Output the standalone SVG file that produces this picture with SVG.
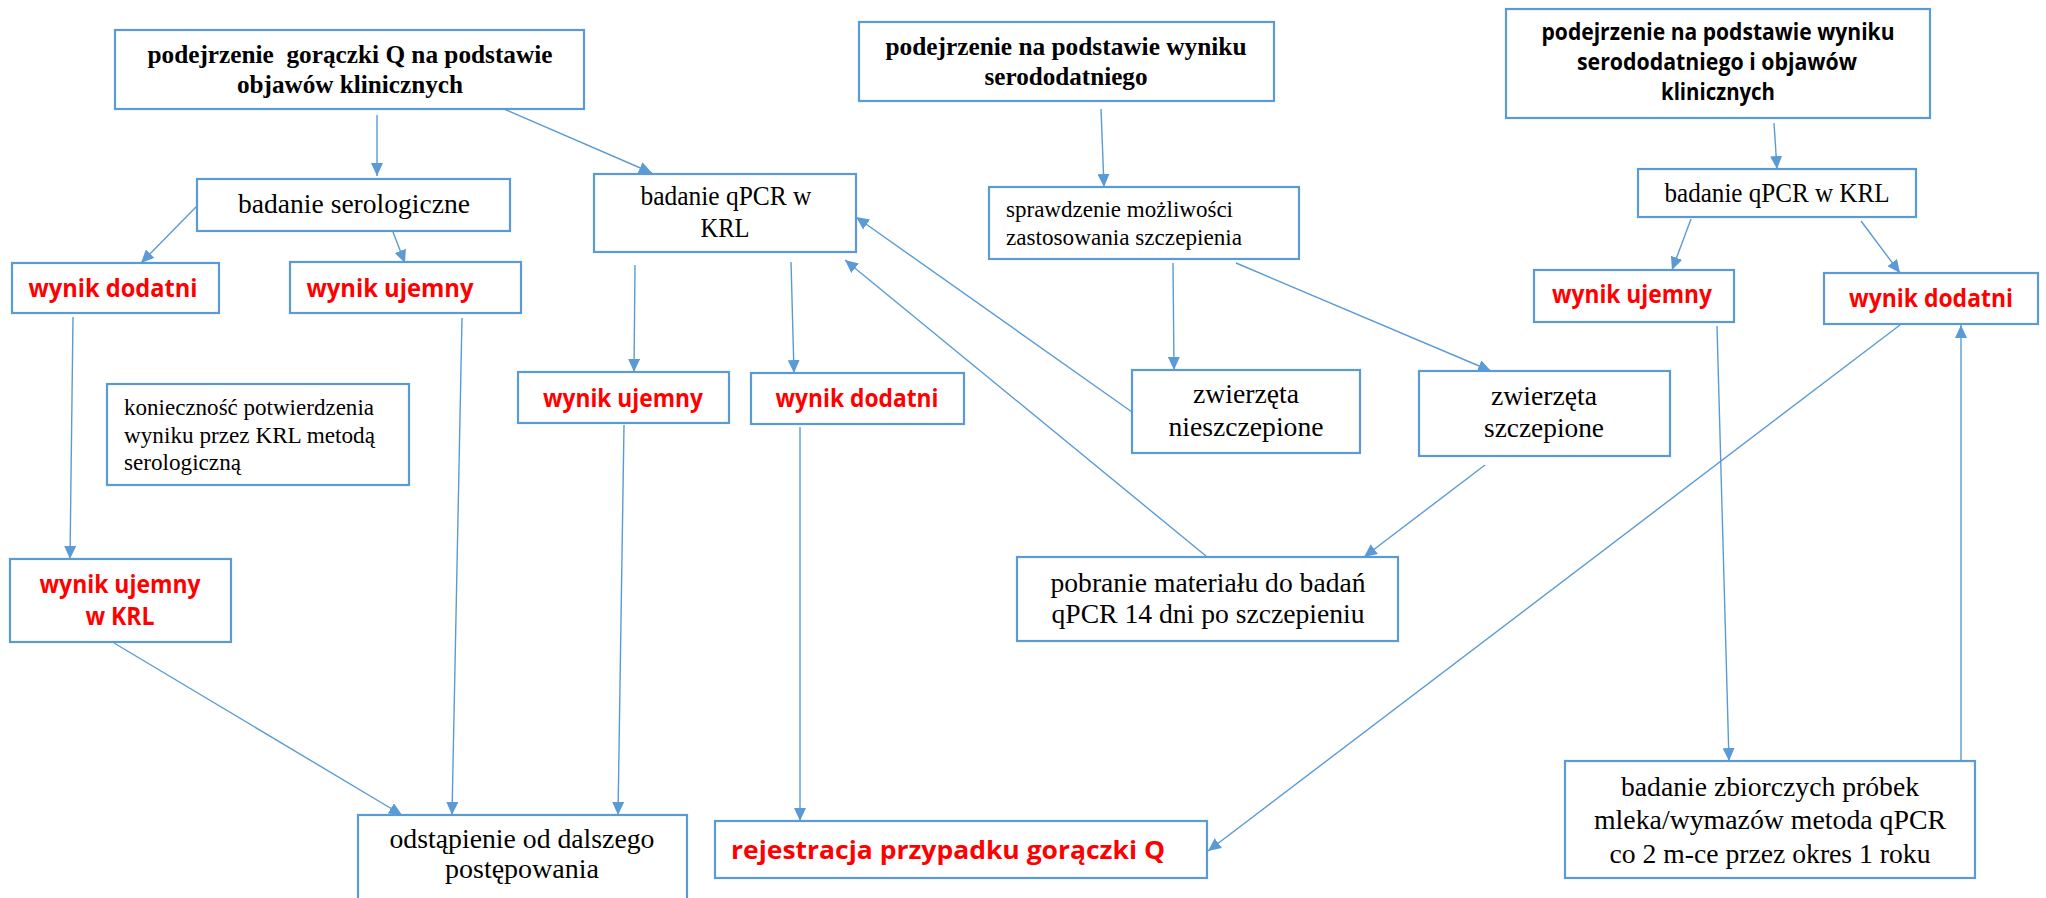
<svg xmlns="http://www.w3.org/2000/svg" width="2046" height="898" viewBox="0 0 2046 898">
<style>
.box{fill:#fff;stroke:#5B9BD5;stroke-width:2.2}
.t{font-family:"Liberation Serif","Times New Roman",serif;font-size:27px;fill:#000}
.ts{font-family:"Liberation Serif","Times New Roman",serif;font-size:23px;fill:#000}
.tb{font-family:"Liberation Serif","Times New Roman",serif;font-size:25px;font-weight:bold;fill:#000}
.sb{font-family:"Open Sans","Liberation Sans",sans-serif;font-size:23px;font-weight:bold;fill:#000}
.r{font-family:"Open Sans","Liberation Sans",sans-serif;font-size:25px;font-weight:bold;fill:#FF0000}
.c{text-anchor:middle}
.e{stroke:#5B9BD5;stroke-width:1.4;fill:none}
.ea{stroke:#5B9BD5;stroke-width:1.4;fill:none;marker-end:url(#ah)}
</style>
<defs>
<marker id="ah" markerUnits="userSpaceOnUse" markerWidth="14" markerHeight="12" refX="13" refY="6" orient="auto">
<path d="M0,0 L13,6 L0,12 z" fill="#5B9BD5"/>
</marker>
</defs>
<rect width="2046" height="898" fill="#fff"/>
<g id="connectors">
<line class="ea" x1="377" y1="115" x2="377" y2="176"/>
<line class="ea" x1="504" y1="109" x2="652" y2="173"/>
<line class="ea" x1="196" y1="207" x2="141" y2="263"/>
<line class="ea" x1="393" y1="232" x2="405" y2="263"/>
<line class="ea" x1="73" y1="317" x2="70" y2="559"/>
<line class="ea" x1="462" y1="318" x2="452" y2="815"/>
<line class="ea" x1="114" y1="643" x2="402" y2="815"/>
<line class="ea" x1="635" y1="265" x2="634" y2="372"/>
<line class="ea" x1="791" y1="262" x2="794" y2="373"/>
<line class="ea" x1="624" y1="425" x2="618" y2="815"/>
<line class="ea" x1="800" y1="427" x2="800" y2="821"/>
<line class="ea" x1="1101" y1="109" x2="1104" y2="187"/>
<line class="ea" x1="1173" y1="263" x2="1174" y2="370"/>
<line class="ea" x1="1236" y1="263" x2="1491" y2="371"/>
<line class="ea" x1="1132" y1="412" x2="856" y2="217"/>
<line class="ea" x1="1485" y1="465" x2="1364" y2="557"/>
<line class="ea" x1="1206" y1="556" x2="845" y2="260"/>
<line class="ea" x1="1774" y1="123" x2="1777" y2="169"/>
<line class="ea" x1="1691" y1="219" x2="1672" y2="270"/>
<line class="ea" x1="1861" y1="221" x2="1900" y2="273"/>
<line class="ea" x1="1717" y1="326" x2="1729" y2="761"/>
<line class="ea" x1="1961" y1="760" x2="1961" y2="325"/>
<line class="ea" x1="1900" y1="325" x2="1208" y2="851"/>
</g>
<g id="n1">
<rect class="box" x="115" y="30" width="469" height="79"/>
<text class="tb c" x="350" y="63" textLength="405" lengthAdjust="spacingAndGlyphs" xml:space="preserve">podejrzenie  gorączki Q na podstawie</text>
<text class="tb c" x="350" y="93" textLength="226" lengthAdjust="spacingAndGlyphs">objawów klinicznych</text>
</g>
<g id="n2">
<rect class="box" x="197" y="179" width="313" height="52"/>
<text class="t c" x="354" y="213" textLength="232" lengthAdjust="spacingAndGlyphs">badanie serologiczne</text>
</g>
<g id="n3">
<rect class="box" x="12" y="263" width="207" height="50"/>
<text class="r c" x="113" y="297" textLength="169" lengthAdjust="spacingAndGlyphs">wynik dodatni</text>
</g>
<g id="n4">
<rect class="box" x="290" y="262" width="231" height="51"/>
<text class="r c" x="390" y="297" textLength="167" lengthAdjust="spacingAndGlyphs">wynik ujemny</text>
</g>
<g id="n5">
<rect class="box" x="107" y="384" width="302" height="101"/>
<text class="ts" x="124" y="415" textLength="250" lengthAdjust="spacingAndGlyphs">konieczność potwierdzenia</text>
<text class="ts" x="124" y="443" textLength="251" lengthAdjust="spacingAndGlyphs">wyniku przez KRL metodą</text>
<text class="ts" x="124" y="470" textLength="117" lengthAdjust="spacingAndGlyphs">serologiczną</text>
</g>
<g id="n6">
<rect class="box" x="10" y="559" width="221" height="83"/>
<text class="r c" x="120" y="593" textLength="161" lengthAdjust="spacingAndGlyphs">wynik ujemny</text>
<text class="r c" x="120" y="625" textLength="69" lengthAdjust="spacingAndGlyphs">w KRL</text>
</g>
<g id="n7">
<rect class="box" x="594" y="174" width="262" height="78"/>
<text class="t c" x="726" y="205" textLength="171" lengthAdjust="spacingAndGlyphs">badanie qPCR w</text>
<text class="t c" x="725" y="237" textLength="49" lengthAdjust="spacingAndGlyphs">KRL</text>
</g>
<g id="n8">
<rect class="box" x="518" y="372" width="211" height="51"/>
<text class="r c" x="623" y="407" textLength="160" lengthAdjust="spacingAndGlyphs">wynik ujemny</text>
</g>
<g id="n9">
<rect class="box" x="751" y="373" width="213" height="51"/>
<text class="r c" x="857" y="407" textLength="163" lengthAdjust="spacingAndGlyphs">wynik dodatni</text>
</g>
<g id="n10">
<rect class="box" x="859" y="22" width="415" height="79"/>
<text class="tb c" x="1066" y="55" textLength="361" lengthAdjust="spacingAndGlyphs">podejrzenie na podstawie wyniku</text>
<text class="tb c" x="1066" y="85" textLength="163" lengthAdjust="spacingAndGlyphs">serododatniego</text>
</g>
<g id="n11">
<rect class="box" x="989" y="187" width="310" height="72"/>
<text class="ts" x="1006" y="217" textLength="227" lengthAdjust="spacingAndGlyphs">sprawdzenie możliwości</text>
<text class="ts" x="1006" y="245" textLength="236" lengthAdjust="spacingAndGlyphs">zastosowania szczepienia</text>
</g>
<g id="n12">
<rect class="box" x="1132" y="370" width="228" height="83"/>
<text class="t c" x="1246" y="403" textLength="106" lengthAdjust="spacingAndGlyphs">zwierzęta</text>
<text class="t c" x="1246" y="436" textLength="155" lengthAdjust="spacingAndGlyphs">nieszczepione</text>
</g>
<g id="n13">
<rect class="box" x="1419" y="371" width="251" height="85"/>
<text class="t c" x="1544" y="405" textLength="106" lengthAdjust="spacingAndGlyphs">zwierzęta</text>
<text class="t c" x="1544" y="437" textLength="120" lengthAdjust="spacingAndGlyphs">szczepione</text>
</g>
<g id="n14">
<rect class="box" x="1017" y="557" width="381" height="84"/>
<text class="t c" x="1208" y="592" textLength="315" lengthAdjust="spacingAndGlyphs">pobranie materiału do badań</text>
<text class="t c" x="1208" y="623" textLength="313" lengthAdjust="spacingAndGlyphs">qPCR 14 dni po szczepieniu</text>
</g>
<g id="n15">
<rect class="box" x="1506" y="9" width="424" height="109"/>
<text class="sb c" x="1718" y="40" textLength="353" lengthAdjust="spacingAndGlyphs">podejrzenie na podstawie wyniku</text>
<text class="sb c" x="1717" y="70" textLength="280" lengthAdjust="spacingAndGlyphs">serododatniego i objawów</text>
<text class="sb c" x="1718" y="100" textLength="114" lengthAdjust="spacingAndGlyphs">klinicznych</text>
</g>
<g id="n16">
<rect class="box" x="1638" y="169" width="278" height="48"/>
<text class="t c" x="1777" y="202" textLength="225" lengthAdjust="spacingAndGlyphs">badanie qPCR w KRL</text>
</g>
<g id="n17">
<rect class="box" x="1534" y="270" width="200" height="52"/>
<text class="r c" x="1632" y="303" textLength="160" lengthAdjust="spacingAndGlyphs">wynik ujemny</text>
</g>
<g id="n18">
<rect class="box" x="1824" y="273" width="214" height="51"/>
<text class="r c" x="1931" y="307" textLength="164" lengthAdjust="spacingAndGlyphs">wynik dodatni</text>
</g>
<g id="n19">
<rect class="box" x="1565" y="761" width="410" height="117"/>
<text class="t c" x="1770" y="796" textLength="298" lengthAdjust="spacingAndGlyphs">badanie zbiorczych próbek</text>
<text class="t c" x="1770" y="829" textLength="352" lengthAdjust="spacingAndGlyphs">mleka/wymazów metoda qPCR</text>
<text class="t c" x="1770" y="863" textLength="321" lengthAdjust="spacingAndGlyphs">co 2 m-ce przez okres 1 roku</text>
</g>
<g id="n20">
<rect class="box" x="358" y="815" width="329" height="95"/>
<text class="t c" x="522" y="848" textLength="265" lengthAdjust="spacingAndGlyphs">odstąpienie od dalszego</text>
<text class="t c" x="522" y="878" textLength="154" lengthAdjust="spacingAndGlyphs">postępowania</text>
</g>
<g id="n21">
<rect class="box" x="715" y="821" width="492" height="57"/>
<text class="r c" x="948" y="859" font-size="29" textLength="434" lengthAdjust="spacingAndGlyphs">rejestracja przypadku gorączki Q</text>
</g>
</svg>
